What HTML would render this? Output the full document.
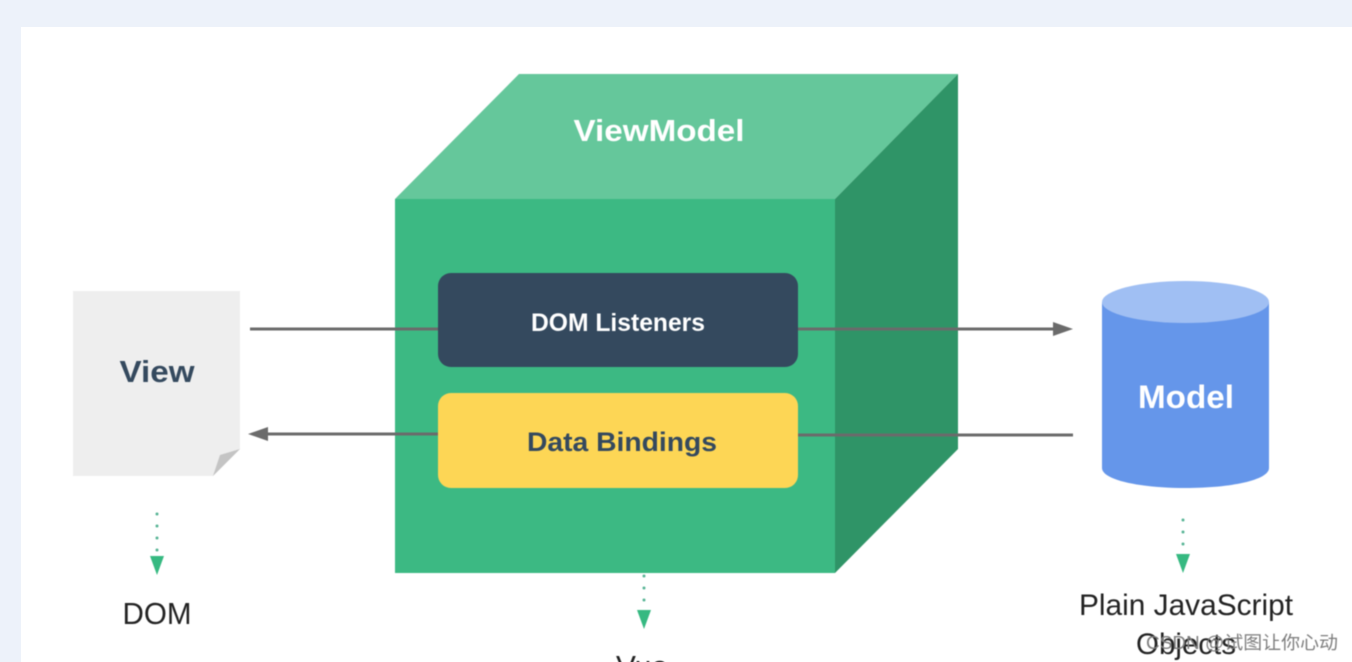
<!DOCTYPE html>
<html lang="zh">
<head>
<meta charset="utf-8">
<title>MVVM diagram</title>
<style>
html,body{margin:0;padding:0;width:1352px;height:662px;overflow:hidden;background:#fff}
svg{display:block}
text{font-family:"Liberation Sans","Noto Sans CJK SC",sans-serif}
.b{font-weight:700}
.soft{filter:blur(.55px)}
</style>
</head>
<body>
<svg width="1352" height="662" viewBox="0 0 1352 662" xmlns="http://www.w3.org/2000/svg">
  <rect width="1352" height="662" fill="#edf2fa"/>
  <rect x="21" y="27" width="1331" height="635" fill="#ffffff"/>

  <g class="soft">
  <!-- View document -->
  <polygon points="73,291 240,291 240,449 213,476 73,476" fill="#eeeeee"/>
  <polygon points="240,449 220,455 213,476" fill="#c4c4c4"/>
  <text class="b" x="157" y="382" font-size="31" fill="#34495e" text-anchor="middle" textLength="75" lengthAdjust="spacingAndGlyphs">View</text>

  <!-- Cube -->
  <polygon points="395,199 519,74 958,74 835,199" fill="#65c79b"/>
  <polygon points="835,199 958,74 958,449 835,573" fill="#2f9467"/>
  <rect x="395" y="199" width="440" height="374" fill="#3cb983"/>
  <text class="b" x="659" y="141" font-size="31" fill="#ffffff" text-anchor="middle" textLength="171" lengthAdjust="spacingAndGlyphs">ViewModel</text>

  <!-- Connectors -->
  <line x1="250" y1="329" x2="440" y2="329" stroke="#6b6b6b" stroke-width="3"/>
  <line x1="796" y1="329" x2="1058" y2="329" stroke="#6b6b6b" stroke-width="3"/>
  <polygon points="1073,329 1053,322 1053,336" fill="#6b6b6b"/>
  <line x1="262" y1="434" x2="440" y2="434" stroke="#6b6b6b" stroke-width="3"/>
  <polygon points="248,434 268,427 268,441" fill="#6b6b6b"/>
  <line x1="796" y1="435" x2="1073" y2="435" stroke="#6b6b6b" stroke-width="3"/>

  <!-- Inner boxes -->
  <rect x="438" y="273" width="360" height="94" rx="13" fill="#34495e"/>
  <text class="b" x="618" y="331" font-size="25" fill="#ffffff" text-anchor="middle" textLength="174" lengthAdjust="spacingAndGlyphs">DOM Listeners</text>
  <rect x="438" y="393" width="360" height="95" rx="13" fill="#fdd655"/>
  <text class="b" x="622" y="451" font-size="27" fill="#34495e" text-anchor="middle" textLength="190" lengthAdjust="spacingAndGlyphs">Data Bindings</text>

  <!-- Model cylinder -->
  <path d="M1102,302 V468 C1102,480 1140,488 1185.500,488 C1231,488 1269,480 1269,468 V302 Z" fill="#6596ea"/>
  <ellipse cx="1185.500" cy="302" rx="83.500" ry="21" fill="#a0bff3"/>
  <text class="b" x="1186" y="408" font-size="32" fill="#ffffff" text-anchor="middle" textLength="96" lengthAdjust="spacingAndGlyphs">Model</text>

  <!-- Dotted green arrows -->
  <g fill="#59b596">
    <circle cx="157" cy="514" r="1.500"/><circle cx="157" cy="526" r="1.500"/><circle cx="157" cy="538" r="1.500"/><circle cx="157" cy="550" r="1.500"/>
    <circle cx="644" cy="576" r="1.500"/><circle cx="644" cy="588" r="1.500"/><circle cx="644" cy="600" r="1.500"/>
    <circle cx="1183" cy="520" r="1.500"/><circle cx="1183" cy="532" r="1.500"/><circle cx="1183" cy="544" r="1.500"/>
  </g>
  <g fill="#36b981">
    <polygon points="150,556 164,556 157,575"/>
    <polygon points="637,610 651,610 644,629"/>
    <polygon points="1176,554 1190,554 1183,573"/>
  </g>

  <!-- Labels -->
  <text x="157" y="624" font-size="31" fill="#222222" text-anchor="middle" textLength="69" lengthAdjust="spacingAndGlyphs">DOM</text>
  <text x="642" y="677" font-size="31" fill="#222222" text-anchor="middle" textLength="52" lengthAdjust="spacingAndGlyphs">Vue</text>
  <text x="1186" y="615" font-size="30" fill="#222222" text-anchor="middle" textLength="214" lengthAdjust="spacingAndGlyphs">Plain JavaScript</text>
  <text x="1186" y="654" font-size="30" fill="#222222" text-anchor="middle" textLength="100" lengthAdjust="spacingAndGlyphs">Objects</text>

  <!-- Watermark -->
  <text x="1146" y="649" font-size="18" fill="#7d7d7d" textLength="192" lengthAdjust="spacingAndGlyphs">CSDN @试图让你心动</text>
  </g>
</svg>
</body>
</html>
